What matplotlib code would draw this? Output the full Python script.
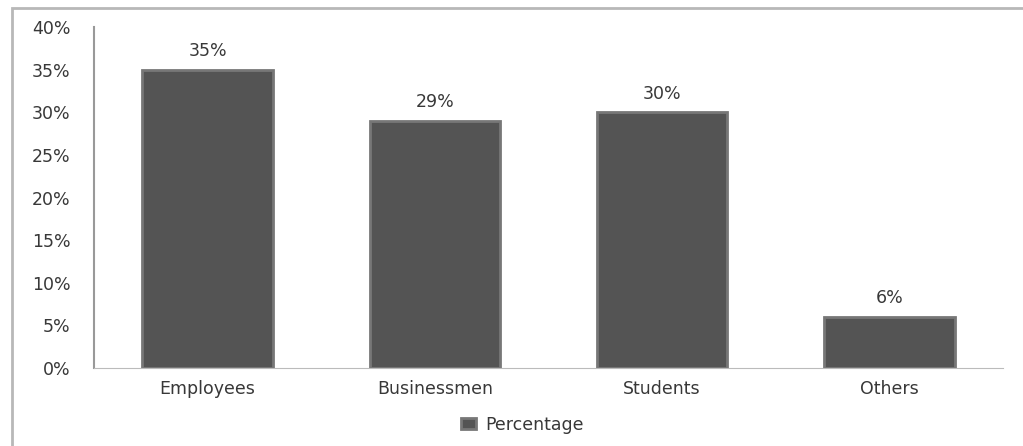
import matplotlib.pyplot as plt
from matplotlib.patches import Rectangle
from matplotlib.ticker import FuncFormatter

categories = ["Employees", "Businessmen", "Students", "Others"]
percentage = [35, 29, 30, 6]
yticks = [0, 5, 10, 15, 20, 25, 30, 35, 40]

plt.rcParams['font.family'] = ['DejaVu Sans']
txt = '#383838'
fs = 12.5

fig = plt.figure(figsize=(10.23, 4.46), dpi=100)
ax = fig.add_axes([94 / 1023, 1 - 368 / 446, 909 / 1023, 341 / 446])

# outer frame of the chart area
fig.patches.append(Rectangle((12 / 1023, -0.02), 1.2, 1 - 8 / 446 + 0.02,
                             transform=fig.transFigure, fill=False,
                             edgecolor='#b8b8b8', linewidth=2))

x = range(len(categories))
bars = ax.bar(x, percentage, width=0.575, color='#545454',
              edgecolor='#777777', linewidth=2, label='Percentage')

for xi, v in zip(x, percentage):
    ax.text(xi, v + 1.1, f"{v}%", ha='center', va='bottom', fontsize=fs, color=txt)

ax.set_xlim(-0.5, 3.5)
ax.set_ylim(0, 40)
ax.set_yticks(yticks)
ax.yaxis.set_major_formatter(FuncFormatter(lambda v, p: f"{v:.0f}%"))
ax.set_xticks(list(x))
ax.set_xticklabels(categories)
ax.tick_params(axis='both', length=0, labelsize=fs, labelcolor=txt)
ax.tick_params(axis='y', pad=17)
ax.tick_params(axis='x', pad=9)

for s in ['top', 'right']:
    ax.spines[s].set_visible(False)
ax.spines['left'].set_color('#999999')
ax.spines['bottom'].set_color('#bbbbbb')
ax.spines['left'].set_linewidth(1.5)

fig.legend(handles=[bars], labels=['Percentage'], loc='center',
           bbox_to_anchor=(522 / 1023, 1 - 425 / 446), frameon=False,
           fontsize=fs, labelcolor=txt, handlelength=0.9, handleheight=0.6,
           handletextpad=0.5)

fig.savefig('out.png', dpi=100)
